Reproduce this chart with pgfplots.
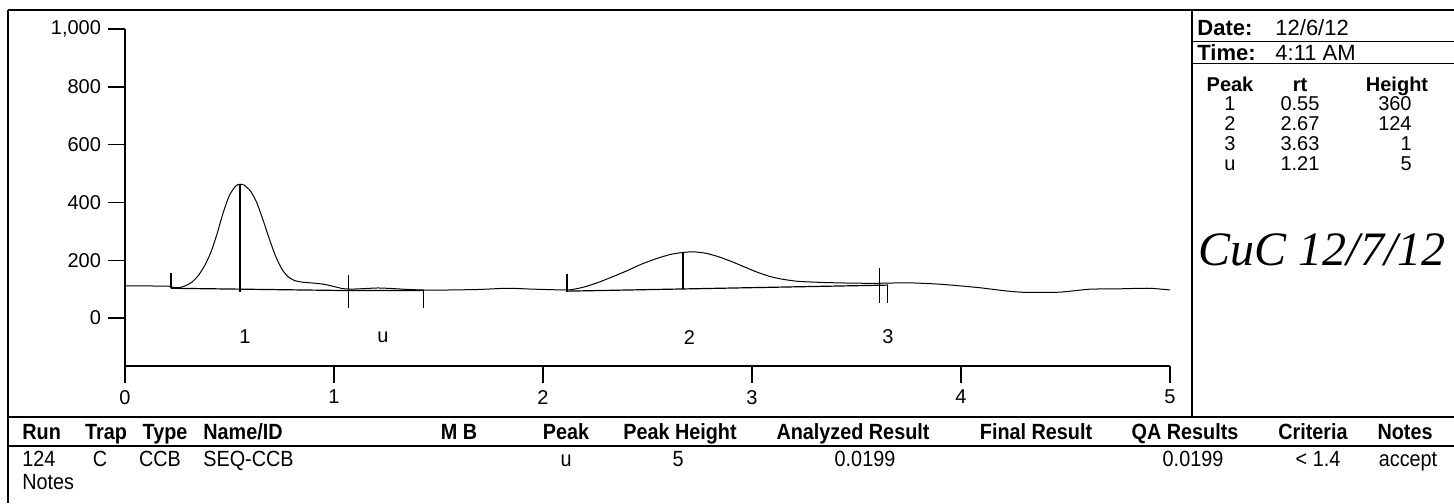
\documentclass[border=0pt]{standalone}
\usepackage{fontspec}
\setmainfont{Liberation Sans}
\newfontfamily\tabfont[FakeStretch=0.9]{Liberation Sans}
\newfontfamily\sigfont{Liberation Serif}
\usepackage{pgfplots}
\pgfplotsset{compat=1.18}
\begin{document}
\begin{tikzpicture}
\begin{scope}[x=0.5pt,y=-0.5pt]
\path[use as bounding box] (0,0) rectangle (1454,503);
% frame
\draw[line width=0.7pt] (8,10) -- (1454,10);
\draw[line width=0.7pt] (8,10) -- (8,503);
\draw[line width=0.7pt] (8,417) -- (1454,417);
\draw[line width=0.7pt] (8,446) -- (1454,446);
\draw[line width=0.7pt] (1192,10) -- (1192,417);
\draw[line width=0.5pt] (1192,41) -- (1454,41);
\draw[line width=0.5pt] (1192,63) -- (1454,63);
% right panel
\begin{scope}[every node/.style={font=\fontsize{10}{12}\selectfont, inner sep=0pt}]
\node[anchor=base west,font=\fontsize{11}{13}\selectfont\bfseries] at (1197,35) {Date:};
\node[anchor=base west,font=\fontsize{11}{13}\selectfont] at (1275,35) {12/6/12};
\node[anchor=base west,font=\fontsize{11}{13}\selectfont\bfseries] at (1197,60) {Time:};
\node[anchor=base west,font=\fontsize{11}{13}\selectfont] at (1275,60) {4:11 AM};
\node[anchor=base,font=\fontsize{10}{12}\selectfont\bfseries] at (1230,91) {Peak};
\node[anchor=base,font=\fontsize{10}{12}\selectfont\bfseries] at (1300,91) {rt};
\node[anchor=base,font=\fontsize{10}{12}\selectfont\bfseries] at (1397,91) {Height};
\node[anchor=base] at (1230,110) {1}; \node[anchor=base] at (1300,110) {0.55}; \node[anchor=base east] at (1412,110) {360};
\node[anchor=base] at (1230,130) {2}; \node[anchor=base] at (1300,130) {2.67}; \node[anchor=base east] at (1412,130) {124};
\node[anchor=base] at (1230,150) {3}; \node[anchor=base] at (1300,150) {3.63}; \node[anchor=base east] at (1412,150) {1};
\node[anchor=base] at (1230,170) {u}; \node[anchor=base] at (1300,170) {1.21}; \node[anchor=base east] at (1412,170) {5};
\node[font=\fontsize{24}{26}\sigfont\itshape] at (1322,250) {CuC 12/7/12};
\end{scope}
% bottom table
\begin{scope}[every node/.style={font=\fontsize{11}{13}\tabfont, inner sep=0pt}]
\begin{scope}[every node/.append style={font=\fontsize{11}{13}\tabfont\bfseries}]
\node[anchor=base west] at (22,439) {Run};
\node[anchor=base] at (106,439) {Trap};
\node[anchor=base] at (165,439) {Type};
\node[anchor=base west] at (203,439) {Name/ID};
\node[anchor=base] at (459,439) {M B};
\node[anchor=base] at (566,439) {Peak};
\node[anchor=base] at (680,439) {Peak Height};
\node[anchor=base] at (853,439) {Analyzed Result};
\node[anchor=base] at (1036,439) {Final Result};
\node[anchor=base] at (1185,439) {QA Results};
\node[anchor=base] at (1313,439) {Criteria};
\node[anchor=base] at (1405,439) {Notes};
\end{scope}
\node[anchor=base west] at (22,466) {124};
\node[anchor=base] at (100,466) {C};
\node[anchor=base] at (160,466) {CCB};
\node[anchor=base west] at (203,466) {SEQ-CCB};
\node[anchor=base] at (566,466) {u};
\node[anchor=base] at (678,466) {5};
\node[anchor=base] at (865,466) {0.0199};
\node[anchor=base] at (1193,466) {0.0199};
\node[anchor=base] at (1318,466) {< 1.4};
\node[anchor=base] at (1408,466) {accept};
\node[anchor=base west] at (22,489) {Notes};
\end{scope}
\end{scope}
\begin{axis}[
  anchor=south west, at={(62.5pt,-183pt)},
  x=104.5pt, y=0.1445pt,
  xmin=0, xmax=5, ymin=-166, ymax=1000,
  axis x line=bottom, axis y line=left,
  axis line style={-, line width=0.7pt},
  xtick={0,1,2,3,4,5}, ytick={0,200,400,600,800,1000},
  tick align=outside, major tick length=8.5pt,
  tick style={black, line width=0.7pt},
  ticklabel style={font=\fontsize{10}{12}\selectfont},
  /pgf/number format/assume math mode=true,
  yticklabel style={/pgf/number format/1000 sep={,}},
  clip=false,
]
\addplot[black, line width=0.5pt, smooth, tension=0.4] coordinates {
(0.00,111) (0.10,111) (0.21,110) (0.23,106) (0.26,105) (0.29,112) (0.32,124)
(0.35,146) (0.38,180) (0.41,226) (0.44,290) (0.47,365) (0.50,425) (0.53,457)
(0.55,463) (0.57,460) (0.60,440) (0.63,400) (0.66,340) (0.69,275) (0.72,215)
(0.75,170) (0.78,143) (0.81,130) (0.85,124) (0.90,121) (0.95,117) (1.00,109)
(1.04,102) (1.08,100) (1.15,102) (1.21,104) (1.28,102) (1.35,99) (1.43,97)
(1.55,97) (1.70,99) (1.83,103) (1.95,100) (2.11,97) (2.15,100) (2.20,108)
(2.26,122) (2.33,142) (2.40,163) (2.47,186) (2.54,205) (2.61,220) (2.67,227)
(2.72,229) (2.78,224) (2.84,212) (2.90,196) (2.96,178) (3.02,160) (3.08,145)
(3.14,135) (3.22,127) (3.34,123) (3.46,121) (3.58,120) (3.66,121) (3.74,122)
(3.82,120) (3.90,117) (4.00,111) (4.10,104) (4.20,95) (4.30,89) (4.46,89)
(4.55,95) (4.62,100) (4.75,101) (4.90,103) (5.00,97)
};
% integration baselines
\addplot[black, line width=0.6pt] coordinates {(0.22,103) (1.07,95) (1.43,95)};
\addplot[black, line width=0.6pt] coordinates {(2.115,93) (3.65,114)};
% peak markers
\addplot[black, line width=0.6pt] coordinates {(0.22,103) (0.22,157)};
\addplot[black, line width=0.6pt] coordinates {(0.55,463) (0.55,91)};
\addplot[black, line width=0.6pt] coordinates {(1.07,149) (1.07,34)};
\addplot[black, line width=0.6pt] coordinates {(1.43,97) (1.43,34)};
\addplot[black, line width=0.6pt] coordinates {(2.115,152) (2.115,90)};
\addplot[black, line width=0.6pt] coordinates {(2.67,229) (2.67,100)};
\addplot[black, line width=0.6pt] coordinates {(3.61,173) (3.61,52)};
\addplot[black, line width=0.6pt] coordinates {(3.65,114) (3.65,52)};
\node[font=\fontsize{10}{12}\selectfont] at (axis cs:0.574,-66) {1};
\node[font=\fontsize{10}{12}\selectfont] at (axis cs:1.234,-66) {u};
\node[font=\fontsize{10}{12}\selectfont] at (axis cs:2.70,-66) {2};
\node[font=\fontsize{10}{12}\selectfont] at (axis cs:3.65,-66) {3};
\end{axis}
\end{tikzpicture}
\end{document}
